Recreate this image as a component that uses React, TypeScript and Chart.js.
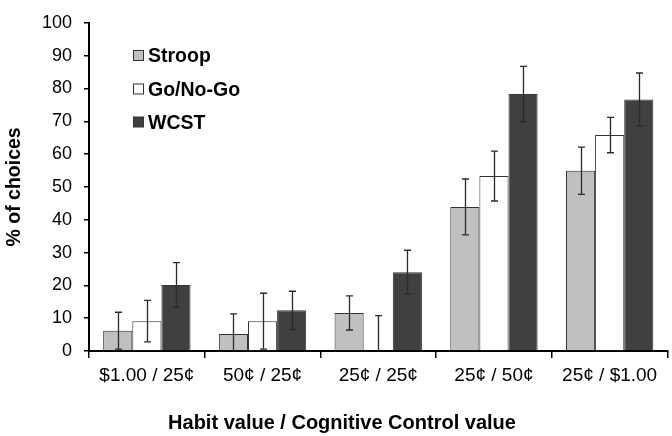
import React, { useEffect, useRef } from "react";
import { Chart, registerables } from "chart.js";

Chart.register(...registerables);

const categories = ["$1.00 / 25¢", "50¢ / 25¢", "25¢ / 25¢", "25¢ / 50¢", "25¢ / $1.00"];
const seriesNames = ["Stroop", "Go/No-Go", "WCST"];
const stroopValues = [6.2, 5.2, 11.6, 43.9, 54.9];
const stroopErrors = [5.6, 6.1, 5.2, 8.5, 7.2];
const goNoGoValues = [9.1, 9.1, 0, 53.3, 65.8];
const goNoGoErrors = [6.3, 8.5, 10.8, 7.6, 5.4];
const wcstValues = [20.1, 12.4, 24.0, 78.3, 76.6];
const wcstErrors = [6.8, 5.8, 6.7, 8.4, 8.1];
const yMin = 0;
const yMax = 100;
const yStep = 10;
const xTitle = "Habit value / Cognitive Control value";
const yTitle = "% of choices";

const FONT = "'Liberation Sans', Arial, Helvetica, sans-serif";
const BORDER = "#333333";

const errorBarsPlugin = {
  id: "errorBars",
  afterDatasetsDraw(chart: any) {
    const ctx = chart.ctx;
    const y = chart.scales.y;
    ctx.save();
    ctx.strokeStyle = "#2a2a2a";
    ctx.lineWidth = 1.3;
    chart.data.datasets.forEach((ds: any, i: number) => {
      const meta = chart.getDatasetMeta(i);
      meta.data.forEach((bar: any, j: number) => {
        const v = ds.data[j];
        const e = ds.errors[j];
        const lowV = v - e;
        const clipped = lowV < yMin;
        const top = y.getPixelForValue(v + e);
        const bot = y.getPixelForValue(Math.max(lowV, yMin));
        const x = Math.round(bar.x) + 0.5;
        ctx.beginPath();
        ctx.moveTo(x, top);
        ctx.lineTo(x, bot);
        ctx.moveTo(x - 3.5, top);
        ctx.lineTo(x + 3.5, top);
        if (!clipped) {
          ctx.moveTo(x - 3.5, bot);
          ctx.lineTo(x + 3.5, bot);
        }
        ctx.stroke();
      });
    });
    ctx.restore();
  },
};

const legendAndTitlesPlugin = {
  id: "legendAndTitles",
  afterDraw(chart: any) {
    const ctx = chart.ctx;
    const area = chart.chartArea;
    ctx.save();
    // legend
    const boxX = 133.5;
    const rows = [56, 89.5, 122.5];
    ctx.font = `bold 19.5px ${FONT}`;
    ctx.textBaseline = "middle";
    ctx.textAlign = "left";
    chart.data.datasets.forEach((ds: any, i: number) => {
      const cy = rows[i];
      ctx.fillStyle = ds.backgroundColor;
      ctx.fillRect(boxX, cy - 5.5, 10, 10);
      ctx.strokeStyle = BORDER;
      ctx.lineWidth = 1;
      ctx.strokeRect(boxX, cy - 5.5, 10, 10);
      ctx.fillStyle = "#000";
      ctx.fillText(ds.label, 148, cy + 1);
    });
    // x title
    ctx.font = `bold 20px ${FONT}`;
    ctx.textAlign = "center";
    ctx.textBaseline = "alphabetic";
    ctx.fillStyle = "#000";
    ctx.fillText(xTitle, 342, 429);
    // y title
    ctx.translate(20, (area.top + area.bottom) / 2);
    ctx.rotate(-Math.PI / 2);
    ctx.font = `bold 19.5px ${FONT}`;
    ctx.fillText(yTitle, 0, 0);
    ctx.restore();
  },
};

export default function App() {
  const canvasRef = useRef<HTMLCanvasElement | null>(null);

  useEffect(() => {
    if (!canvasRef.current) return;
    const chart = new Chart(canvasRef.current, {
      type: "bar",
      data: {
        labels: categories,
        datasets: [
          {
            label: seriesNames[0],
            data: stroopValues,
            errors: stroopErrors,
            backgroundColor: "#c0c0c0",
            borderColor: BORDER,
            borderWidth: 1,
          } as any,
          {
            label: seriesNames[1],
            data: goNoGoValues,
            errors: goNoGoErrors,
            backgroundColor: "#ffffff",
            borderColor: BORDER,
            borderWidth: 1,
          } as any,
          {
            label: seriesNames[2],
            data: wcstValues,
            errors: wcstErrors,
            backgroundColor: "#404040",
            borderColor: BORDER,
            borderWidth: 1,
          } as any,
        ],
      },
      options: {
        responsive: false,
        animation: false,
        events: [],
        layout: { padding: { top: 12, right: 4.5, left: 0, bottom: 0 } },
        datasets: {
          bar: { categoryPercentage: 0.755, barPercentage: 1 },
        },
        plugins: {
          legend: { display: false },
          tooltip: { enabled: false },
          title: { display: false },
        },
        scales: {
          x: {
            type: "category",
            grid: {
              display: true,
              drawOnChartArea: false,
              drawTicks: true,
              tickLength: 7,
              color: "#000",
              lineWidth: 1.5,
              offset: true,
            },
            border: { display: true, color: "#000", width: 2 },
            ticks: {
              color: "#000",
              font: { family: FONT, size: 19 },
              padding: 6,
              maxRotation: 0,
              autoSkip: false,
            },
            afterFit: (s: any) => {
              s.height = 85;
            },
          },
          y: {
            min: yMin,
            max: yMax,
            grid: {
              display: true,
              drawOnChartArea: false,
              drawTicks: true,
              tickLength: 5,
              color: "#000",
              lineWidth: 1.5,
            },
            border: { display: true, color: "#000", width: 2 },
            ticks: {
              stepSize: yStep,
              color: "#000",
              font: { family: FONT, size: 18 },
              padding: 12,
            },
            afterFit: (s: any) => {
              s.width = 89;
            },
          },
        },
      },
      plugins: [errorBarsPlugin, legendAndTitlesPlugin],
    } as any);
    return () => chart.destroy();
  }, []);

  return (
    <div style={{ position: "absolute", left: 0, top: 0, width: 672, height: 436, background: "#fff" }}>
      <canvas ref={canvasRef} width={672} height={436} />
    </div>
  );
}
